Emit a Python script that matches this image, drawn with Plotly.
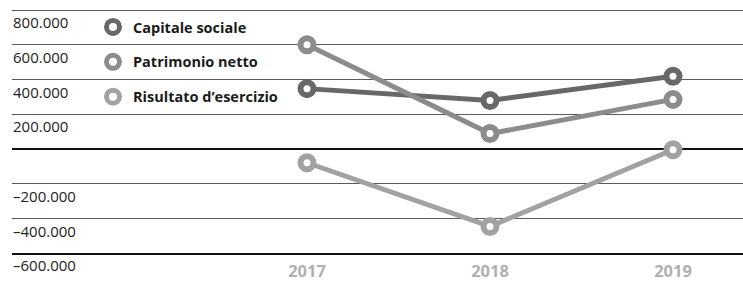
import plotly.graph_objects as go

years = [2017, 2018, 2019]
capitale_sociale = [347000, 279000, 418000]
patrimonio_netto = [600000, 88000, 285000]
risultato_esercizio = [-80000, -447000, -5000]

series_names = ["Capitale sociale", "Patrimonio netto", "Risultato d\u2019esercizio"]
series_colors = ["#686868", "#8c8c8c", "#a2a2a2"]
y_tick_vals = [-600000, -400000, -200000, 0, 200000, 400000, 600000, 800000]
y_tick_text = ["\u2013600.000", "\u2013400.000", "\u2013200.000", "", "200.000", "400.000", "600.000", "800.000"]
x_tick_text = ["2017", "2018", "2019"]

W, H = 743, 282
ml, mr, mt, mb = 12, 0, 0, 29

fig = go.Figure()
for i, (name, vals) in enumerate(zip(series_names, [capitale_sociale, patrimonio_netto, risultato_esercizio])):
    c = series_colors[i]
    fig.add_trace(go.Scatter(
        x=years, y=vals, mode="lines+markers", name=name, showlegend=False,
        line=dict(color=c, width=5),
        marker=dict(symbol="circle", size=13, color="white", line=dict(color=c, width=6)),
        cliponaxis=False,
    ))
for i, name in enumerate(series_names):
    c = series_colors[i]
    fig.add_trace(go.Scatter(
        x=[None], y=[None], mode="markers", name=name, legendgroup=name,
        marker=dict(symbol="circle", size=13, color="white", line=dict(color=c, width=5)),
    ))
# overlay axis used only to carry the left-aligned value labels
fig.add_trace(go.Scatter(x=[None], y=[None], yaxis="y2", showlegend=False, hoverinfo="skip"))

# 800k sits 10px below the top edge, -600k is the bottom of the plot area
plot_h = H - mt - mb
u = (y_tick_vals[-1] - y_tick_vals[0]) / (plot_h - 10)
y_top = y_tick_vals[-1] + 10 * u
y_bot = y_tick_vals[0]

px_per_year = 183
x_left = years[0] - 295 / px_per_year
x_right = years[-1] + 70 / px_per_year

fig.update_layout(
    width=W, height=H,
    margin=dict(l=ml, r=mr, t=mt, b=mb, pad=0, autoexpand=False),
    paper_bgcolor="white", plot_bgcolor="white",
    font=dict(family="Open Sans", color="#222222"),
    showlegend=True,
    legend=dict(
        x=(93 - ml) / (W - ml - mr), xanchor="left",
        y=1 - 11 / plot_h, yanchor="top",
        bgcolor="rgba(0,0,0,0)",
        font=dict(family="Open Sans", size=14.5, color="#1a1a1a", weight="bold"),
        tracegroupgap=13,
        traceorder="grouped",
    ),
    xaxis=dict(
        range=[x_left, x_right], automargin=False,
        tickvals=years, ticktext=x_tick_text,
        showgrid=False, zeroline=False,
        showline=True, linecolor="#111111", linewidth=1.5,
        ticks="",
        ticklabelstandoff=2,
        tickfont=dict(family="Open Sans", size=16.5, color="#b0b0b0", weight="bold"),
    ),
    yaxis=dict(
        range=[y_bot, y_top], automargin=False,
        tickvals=y_tick_vals,
        showticklabels=False,
        showgrid=True, gridcolor="#5a5a5a", gridwidth=1,
        zeroline=True, zerolinecolor="#111111", zerolinewidth=2,
        showline=False, ticks="",
    ),
    yaxis2=dict(
        range=[y_bot, y_top], overlaying="y", side="right", automargin=False,
        anchor="free", position=0,
        tickvals=y_tick_vals, ticktext=y_tick_text,
        showgrid=False, zeroline=False, showline=False, ticks="",
        ticklabelshift=13,
        ticklabelstandoff=0,
        tickfont=dict(family="Open Sans", size=15, color="#222222"),
    ),
)

fig.write_html(
    "out.html",
    config={"displayModeBar": False},
    post_script="document.body.style.margin='0';document.body.style.overflow='hidden';",
)
